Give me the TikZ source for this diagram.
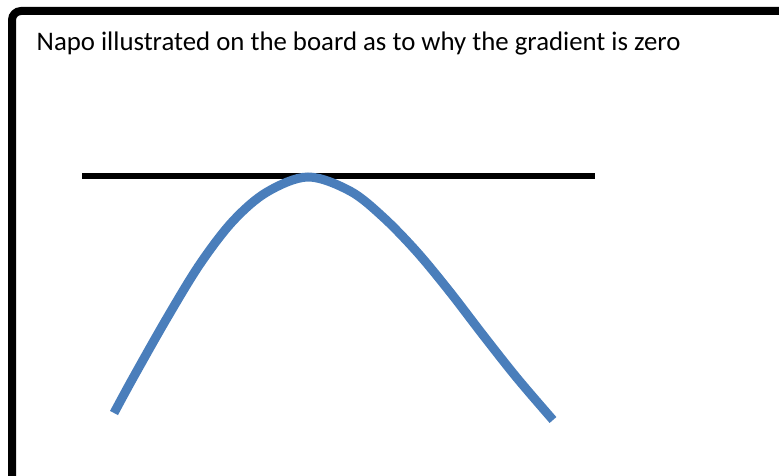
\documentclass[tikz,border=0pt]{standalone}
\usepackage{fontspec}
\setmainfont{Carlito}
\definecolor{curveblue}{HTML}{4A7EBB}
\begin{document}
\begin{tikzpicture}[x=1pt,y=-1pt,
  frame/.style={line width=8pt,rounded corners=9pt},
  tangent/.style={line width=6pt,black},
  curve/.style={line width=9pt,curveblue}]
\useasboundingbox (0,0) rectangle (779,476);
\begin{scope}
\clip (0,0) rectangle (779,476);
\draw[frame] (12,11) rectangle (820,520);
\end{scope}
\node[anchor=base west,inner sep=0pt,font=\fontsize{26.8}{30}\selectfont] (title) at (36.5,51) {Napo illustrated on the board as to why the gradient is zero};
\coordinate (tl) at (82,176);
\coordinate (tr) at (595,176);
\draw[tangent] (tl) -- (tr);
\draw[curve] plot[smooth,tension=0.55] coordinates {(114,413) (133,378) (167,318) (200,264) (233,221) (267,192) (308,177) (350,191) (383,217) (417,252) (450,292) (483,335) (517,378) (553,420)};
\end{tikzpicture}
\end{document}
